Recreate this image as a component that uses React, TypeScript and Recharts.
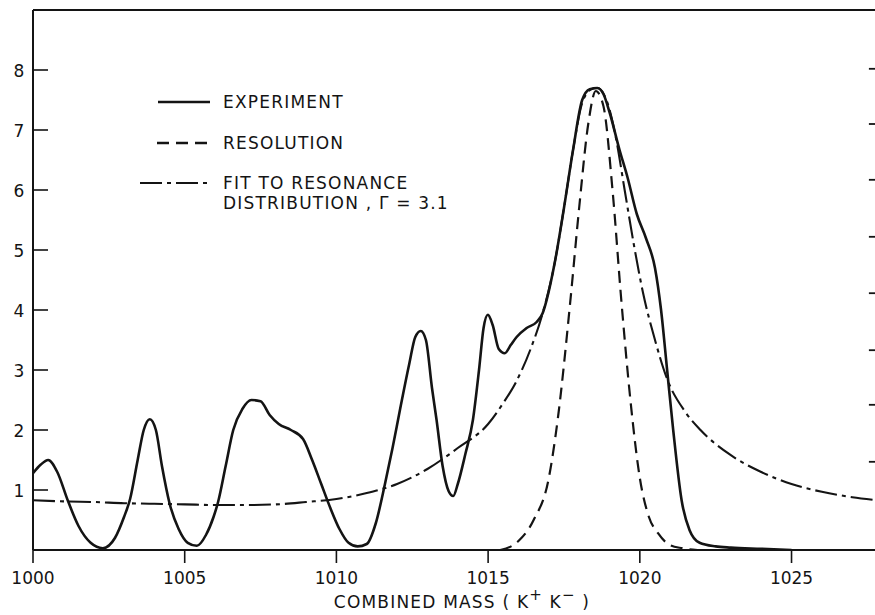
import React from 'react';
import { LineChart, Line, XAxis, YAxis, ReferenceLine } from 'recharts';

// ---- data ----
const expMass = [
  1000.0, 1000.25, 1000.5, 1000.8, 1001.15, 1001.5, 1001.9, 1002.3, 1002.7, 1003.0,
  1003.2, 1003.45, 1003.65, 1003.85, 1004.05, 1004.25, 1004.5, 1004.8, 1005.1, 1005.4,
  1005.7, 1005.95, 1006.1, 1006.35, 1006.6, 1006.9, 1007.2, 1007.5, 1007.8, 1008.1,
  1008.5, 1008.9, 1009.2, 1009.5, 1009.8, 1010.1, 1010.4, 1010.7, 1011.0, 1011.3,
  1011.6, 1011.85, 1012.1, 1012.4, 1012.6, 1012.78, 1012.95, 1013.15, 1013.3, 1013.5,
  1013.7, 1013.85, 1014.0, 1014.25, 1014.5, 1014.7, 1014.85, 1014.99, 1015.15, 1015.35,
  1015.55, 1015.75, 1015.94, 1016.27, 1016.6, 1016.8, 1016.93, 1017.2, 1017.5, 1017.8,
  1018.1, 1018.35, 1018.6, 1018.8, 1019.0, 1019.33, 1019.6, 1019.9, 1020.2, 1020.5,
  1020.7, 1020.9, 1021.1, 1021.38, 1021.64, 1021.97, 1022.5, 1023.0, 1024.0, 1025.0,
];
const expCount = [
  1.28, 1.42, 1.5, 1.3, 0.82, 0.4, 0.12, 0.03, 0.2, 0.55,
  0.85, 1.5, 2.0, 2.18, 2.0, 1.4, 0.78, 0.35, 0.12, 0.07,
  0.25, 0.55, 0.8, 1.4, 2.0, 2.35, 2.5, 2.48, 2.25, 2.1,
  2.0, 1.85, 1.5, 1.1, 0.7, 0.35, 0.12, 0.06, 0.1, 0.45,
  1.1, 1.7, 2.35, 3.1, 3.55, 3.65, 3.5, 2.7, 2.17, 1.4,
  0.98, 0.9, 1.1, 1.6, 2.17, 3.0, 3.7, 3.92, 3.75, 3.35,
  3.28, 3.42, 3.55, 3.7, 3.8, 3.95, 4.17, 4.8, 5.7, 6.67,
  7.5, 7.68, 7.7, 7.6, 7.3, 6.67, 6.2, 5.6, 5.2, 4.7,
  4.0, 3.0, 2.0, 0.82, 0.33, 0.12, 0.06, 0.04, 0.02, 0.0,
];

const resMass = [
  1015.4, 1016.0, 1016.5, 1017.0, 1017.3, 1017.7, 1018.0, 1018.3, 1018.55, 1018.8,
  1019.1, 1019.4, 1019.7, 1020.0, 1020.3, 1020.6, 1021.0, 1021.4, 1021.9,
];
const resCount = [
  0.0, 0.15, 0.5, 1.2, 2.2, 4.1, 5.7, 7.1, 7.65, 7.4,
  6.0, 4.1, 2.45, 1.2, 0.55, 0.28, 0.08, 0.03, 0.0,
];

const fitMass = [
  1000, 1001, 1002, 1003, 1004, 1005, 1006, 1007, 1008, 1009,
  1010, 1011, 1012, 1013, 1014, 1015, 1015.5, 1015.9, 1016.4, 1016.8,
  1017.2, 1017.5, 1017.8, 1018.1, 1018.4, 1018.6, 1018.9, 1019.2, 1019.5, 1019.8,
  1020.1, 1020.5, 1020.9, 1021.5, 1022, 1023, 1024, 1025, 1026, 1027, 1027.8,
];
const fitCount = [
  0.83, 0.81, 0.8, 0.78, 0.77, 0.76, 0.75, 0.75, 0.76, 0.8,
  0.85, 0.95, 1.1, 1.35, 1.7, 2.1, 2.45, 2.78, 3.35, 3.95,
  4.8, 5.7, 6.67, 7.45, 7.68, 7.7, 7.5, 6.9, 6.0, 5.1,
  4.3, 3.5, 2.85, 2.3, 2.0, 1.58, 1.3, 1.1, 0.97, 0.88, 0.83,
];

const xTicks = [1000, 1005, 1010, 1015, 1020, 1025];
const yTicks = [1, 2, 3, 4, 5, 6, 7, 8];
const rightTicks = [1.47, 2.42, 3.33, 4.28, 5.22, 6.17, 7.1, 8.02];
const legendLabels = ['EXPERIMENT', 'RESOLUTION', 'FIT TO RESONANCE', 'DISTRIBUTION , \u0393 = 3.1'];
const axisTitle = 'COMBINED MASS ( K';

const X_MIN = 1000;
const X_MAX = 1027.85;

// ---- build series tables ----
const toRows = (ms: number[], vs: number[]) => ms.map((m, i) => ({ m, v: vs[i] }));
const expData = toRows(expMass, expCount);
const resData = toRows(resMass, resCount);
const fitData = toRows(fitMass, fitCount);

const INK = '#141414';
const FONT = '"DejaVu Sans", "Liberation Sans", sans-serif';
const PLOT_LEFT = 33;

const LeftTick = (props: any) => {
  const { y, payload } = props;
  return (
    <g>
      <line x1={PLOT_LEFT} x2={PLOT_LEFT + 15} y1={y} y2={y} stroke={INK} strokeWidth={1.6} />
      <text x={19} y={y} dy="0.4em" textAnchor="middle" fontSize={17} fontFamily={FONT} fill={INK}>
        {payload.value}
      </text>
    </g>
  );
};

const BottomTick = (props: any) => {
  const { x, y, payload } = props;
  return (
    <text x={x} y={y} dy="0.75em" textAnchor="middle" fontSize={17} fontFamily={FONT} fill={INK}>
      {payload.value}
    </text>
  );
};

const XTitle = (props: any) => {
  const vb = props.viewBox || {};
  const cx = 462;
  const y = (vb.y || 550) + 58;
  return (
    <text x={cx} y={y} textAnchor="middle" fontSize={17} fontFamily={FONT} fill={INK} letterSpacing={1.2}>
      {axisTitle}
      <tspan fontSize={15} dy={-8}>+</tspan>
      <tspan dy={8}> K</tspan>
      <tspan fontSize={15} dy={-8}>{'\u2212'}</tspan>
      <tspan dy={8}> )</tspan>
    </text>
  );
};

const Legend = () => (
  <svg width={875} height={615} style={{ position: 'absolute', left: 0, top: 0, pointerEvents: 'none' }}>
    <g stroke={INK} fill="none">
      <line x1={158} x2={210} y1={102} y2={102} strokeWidth={2.6} />
      <line x1={157} x2={209} y1={143} y2={143} strokeWidth={2.3} strokeDasharray="12 7" />
      <line x1={140} x2={209} y1={183} y2={183} strokeWidth={2.2} strokeDasharray="22 5 4 5" />
    </g>
    <g fontFamily={FONT} fontSize={17} fill={INK} letterSpacing={1.2}>
      <text x={223} y={108}>{legendLabels[0]}</text>
      <text x={223} y={149}>{legendLabels[1]}</text>
      <text x={223} y={189}>{legendLabels[2]}</text>
      <text x={223} y={209}>{legendLabels[3]}</text>
    </g>
  </svg>
);

export default function App() {
  return (
    <div style={{ position: 'absolute', left: 0, top: 0, width: 875, height: 615, overflow: 'hidden', background: '#fff' }}>
      <LineChart
        width={880}
        height={615}
        margin={{ top: 10, right: 2, bottom: 0, left: 0 }}
        style={{ background: '#fff' }}
      >
        <XAxis
          dataKey="m"
          type="number"
          domain={[X_MIN, X_MAX]}
          ticks={xTicks}
          allowDataOverflow
          tick={<BottomTick />}
          tickSize={13}
          tickMargin={8}
          height={65}
          axisLine={{ stroke: INK, strokeWidth: 1.8 }}
          tickLine={{ stroke: INK, strokeWidth: 1.6 }}
          label={<XTitle />}
        />
        <YAxis
          yAxisId="left"
          type="number"
          domain={[0, 9]}
          ticks={yTicks}
          width={33}
          tick={<LeftTick />}
          tickLine={false}
          axisLine={{ stroke: INK, strokeWidth: 2 }}
          allowDataOverflow
        />
        <ReferenceLine yAxisId="left" y={9} stroke={INK} strokeWidth={1.8} />
        {rightTicks.map((t) => (
          <ReferenceLine
            key={t}
            yAxisId="left"
            segment={[{ x: X_MAX - 0.3, y: t }, { x: X_MAX, y: t }]}
            stroke={INK}
            strokeWidth={1.8}
            ifOverflow="visible"
          />
        ))}
        <Line
          yAxisId="left"
          data={fitData}
          dataKey="v"
          type="monotone"
          stroke={INK}
          strokeWidth={2.1}
          strokeDasharray="22 5 4 5"
          dot={false}
          isAnimationActive={false}
        />
        <Line
          yAxisId="left"
          data={resData}
          dataKey="v"
          type="monotone"
          stroke={INK}
          strokeWidth={2.2}
          strokeDasharray="12 7"
          dot={false}
          isAnimationActive={false}
        />
        <Line
          yAxisId="left"
          data={expData}
          dataKey="v"
          type="monotone"
          stroke={INK}
          strokeWidth={2.6}
          dot={false}
          isAnimationActive={false}
        />
      </LineChart>
      <Legend />
    </div>
  );
}
